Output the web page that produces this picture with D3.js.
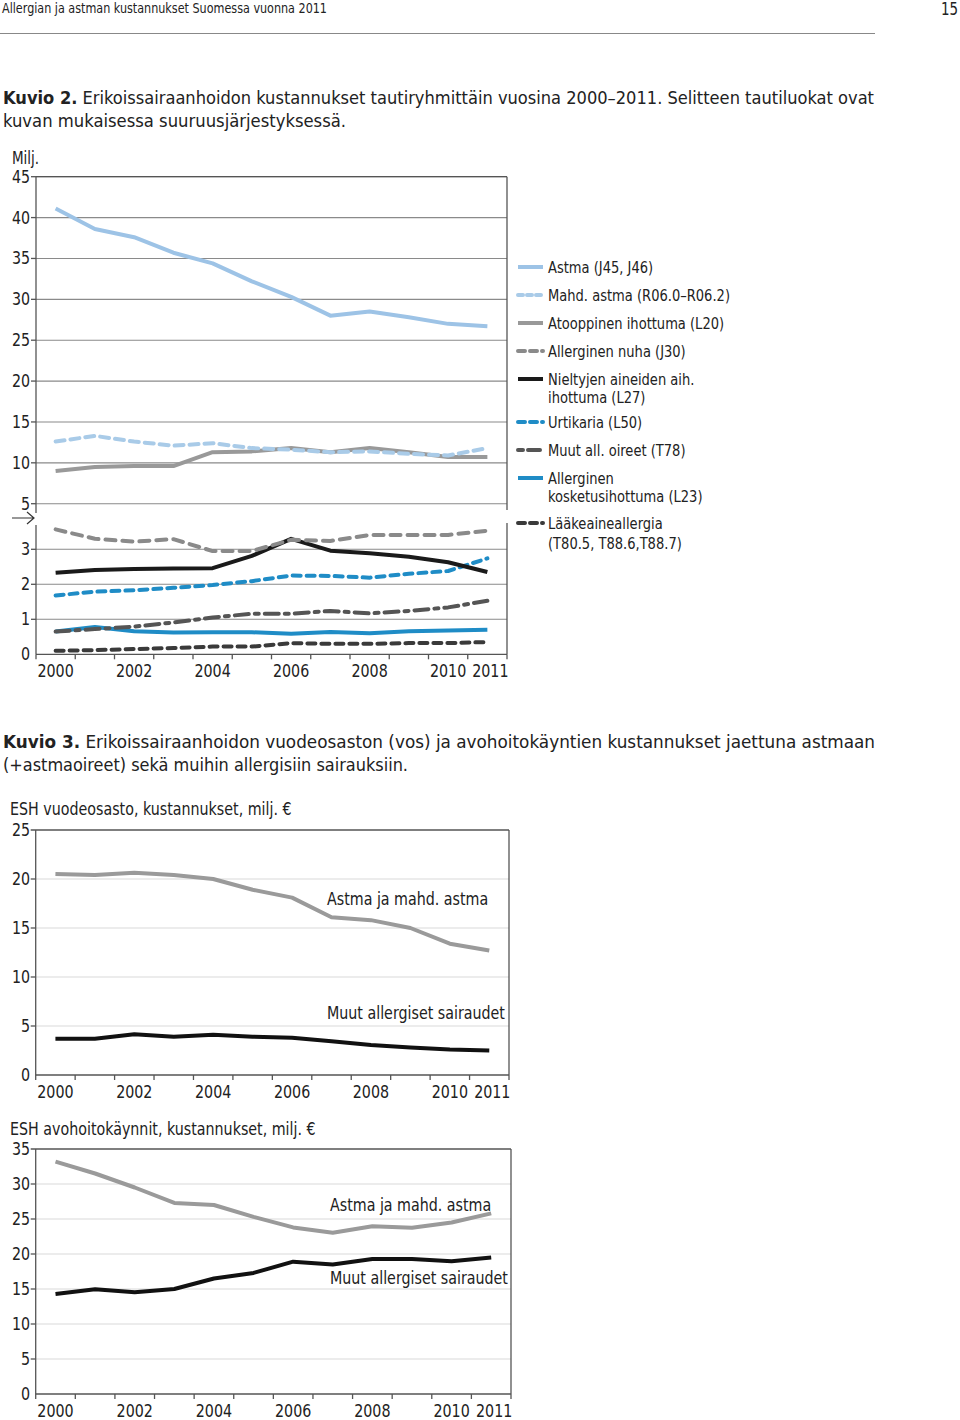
<!DOCTYPE html>
<html><head><meta charset="utf-8">
<script src="https://cdn.jsdelivr.net/npm/d3@7"></script>
<style>
body{margin:0;background:#fff;}
svg text{font-family:"Liberation Sans Narrow","DejaVu Sans Condensed","Roboto",sans-serif;fill:#222;}
</style></head>
<body><svg id="c" width="960" height="1420"></svg>
<script>
// ---------- DATA ----------
const years = [2000,2001,2002,2003,2004,2005,2006,2007,2008,2009,2010,2011];
const xLabelYears = [2000,2002,2004,2006,2008,2010,2011];

// Kuvio 2
const astma       = [41.1,38.6,37.6,35.7,34.4,32.2,30.3,28.0,28.5,27.8,27.0,26.7];
const mahdAstma   = [12.6,13.3,12.6,12.1,12.4,11.8,11.6,11.3,11.4,11.1,10.9,11.8];
const atooppinen  = [9.0,9.5,9.6,9.6,11.3,11.4,11.8,11.3,11.8,11.3,10.7,10.7];
const nuha        = [3.57,3.30,3.22,3.29,2.95,2.95,3.27,3.24,3.41,3.41,3.41,3.53];
const nieltyjen   = [2.33,2.41,2.44,2.45,2.46,2.81,3.30,2.96,2.89,2.79,2.63,2.35];
const urtikaria   = [1.68,1.79,1.83,1.90,1.98,2.09,2.25,2.24,2.19,2.30,2.38,2.74];
const muutOireet  = [0.65,0.72,0.79,0.91,1.05,1.16,1.16,1.24,1.17,1.24,1.34,1.53];
const kosketus    = [0.65,0.78,0.66,0.62,0.63,0.63,0.59,0.64,0.60,0.66,0.68,0.70];
const laake       = [0.10,0.12,0.15,0.18,0.22,0.22,0.32,0.30,0.30,0.32,0.32,0.35];
const upperTicks  = [5,10,15,20,25,30,35,40,45];
const lowerTicks  = [0,1,2,3];
const legendLabels = [
  ["Astma (J45, J46)"],
  ["Mahd. astma (R06.0–R06.2)"],
  ["Atooppinen ihottuma (L20)"],
  ["Allerginen nuha (J30)"],
  ["Nieltyjen aineiden aih.","ihottuma (L27)"],
  ["Urtikaria (L50)"],
  ["Muut all. oireet (T78)"],
  ["Allerginen","kosketusihottuma (L23)"],
  ["Lääkeaineallergia","(T80.5, T88.6,T88.7)"]
];

// Kuvio 3
const vosAstma = [20.5,20.4,20.65,20.4,20.0,18.9,18.1,16.1,15.8,15.0,13.4,12.7];
const vosMuut  = [3.7,3.7,4.15,3.9,4.1,3.9,3.8,3.45,3.05,2.8,2.6,2.5];
const vosTicks = [0,5,10,15,20,25];
const avoAstma = [33.2,31.5,29.5,27.3,27.0,25.3,23.8,23.05,23.95,23.75,24.5,25.8];
const avoMuut  = [14.3,14.95,14.55,15.0,16.5,17.3,18.9,18.5,19.3,19.3,18.95,19.5];
const avoTicks = [0,5,10,15,20,25,30,35];
const seriesLabels = ["Astma ja mahd. astma","Muut allergiset sairaudet"];

// ---------- DRAW ----------
const svg = d3.select("#c");
const FS = 18;

// page header
svg.append("text").attr("x",2).attr("y",13).attr("font-size",14).attr("data-w",325).text("Allergian ja astman kustannukset Suomessa vuonna 2011");
svg.append("text").attr("x",958).attr("y",15).attr("font-size",17).attr("text-anchor","end").attr("class","c").text("15");
svg.append("line").attr("x1",0).attr("x2",875).attr("y1",33.5).attr("y2",33.5).attr("stroke","#888").attr("stroke-width",1.2);

function title(y, bold, rest, line2, w1, w2){
  const t = svg.append("text").attr("x",3).attr("y",y).attr("font-size",18).attr("data-w",w1);
  t.append("tspan").attr("font-weight","bold").text(bold);
  t.append("tspan").text(rest);
  svg.append("text").attr("x",3).attr("y",y+23).attr("font-size",18).attr("data-w",w2).text(line2);
}
title(104,"Kuvio 2."," Erikoissairaanhoidon kustannukset tautiryhmittäin vuosina 2000–2011. Selitteen tautiluokat ovat","kuvan mukaisessa suuruusjärjestyksessä.",871,343);
title(748,"Kuvio 3."," Erikoissairaanhoidon vuodeosaston (vos) ja avohoitokäyntien kustannukset jaettuna astmaan","(+astmaoireet) sekä muihin allergisiin sairauksiin.",872,405);

const AX = "#555";

function xAxisBand(g, x, yBase){
  const bw = x.bandwidth();
  const bounds = years.map(d=>x(d)).concat([x.range()[1]]);
  g.append("line").attr("x1",x.range()[0]).attr("x2",x.range()[1]).attr("y1",yBase).attr("y2",yBase).attr("stroke",AX).attr("stroke-width",1.3);
  g.selectAll(".xt").data(bounds).join("line")
    .attr("x1",d=>d).attr("x2",d=>d).attr("y1",yBase).attr("y2",yBase+5).attr("stroke",AX).attr("stroke-width",1.3);
  g.selectAll(".xl").data(xLabelYears).join("text").attr("class","c")
    .attr("x",d=>x(d)+bw/2 + (d===2011?3:0)).attr("y",yBase+23).attr("text-anchor","middle").attr("font-size",FS).text(d=>d);
}

function yTicks(g, y, ticks, x0, x1, gridColor, labelX){
  g.selectAll(null).data(ticks).join("line")
    .attr("x1",x0).attr("x2",x1).attr("y1",d=>y(d)).attr("y2",d=>y(d))
    .attr("stroke",gridColor).attr("stroke-width",1.1);
  g.selectAll(null).data(ticks).join("line")
    .attr("x1",x0-5).attr("x2",x0).attr("y1",d=>y(d)).attr("y2",d=>y(d)).attr("stroke",AX).attr("stroke-width",1.3);
  g.selectAll(null).data(ticks).join("text").attr("class","c")
    .attr("x",labelX).attr("y",d=>y(d)+6).attr("text-anchor","end").attr("font-size",FS).text(d=>d);
}

// ----- Chart 1 (Kuvio 2) -----
const g1 = svg.append("g");
const x1 = d3.scaleBand().domain(years).range([36,507]);
const yU = d3.scaleLinear().domain([5,45]).range([503.7,176.7]);
const yL = d3.scaleLinear().domain([0,3]).range([654.3,549.3]);
const xc1 = d=>x1(d)+x1.bandwidth()/2;

svg.append("text").attr("x",12).attr("y",164).attr("font-size",17).attr("class","c").text("Milj.");
yTicks(g1, yU, upperTicks, 36, 507, "#8a8a8a", 30);
yTicks(g1, yL, lowerTicks.filter(d=>d>0), 36, 507, "#8a8a8a", 30);
g1.append("text").attr("class","c").attr("x",30).attr("y",yL(0)+6).attr("text-anchor","end").attr("font-size",FS).text(0);
// top border
g1.append("line").attr("x1",36).attr("x2",507).attr("y1",yU(45)).attr("y2",yU(45)).attr("stroke",AX).attr("stroke-width",1.3);
// left axis (broken)
g1.append("line").attr("x1",36).attr("x2",36).attr("y1",yU(45)).attr("y2",513).attr("stroke",AX).attr("stroke-width",1.3);
g1.append("line").attr("x1",36).attr("x2",36).attr("y1",525).attr("y2",yL(0)).attr("stroke",AX).attr("stroke-width",1.3);
// right border (broken)
g1.append("line").attr("x1",507).attr("x2",507).attr("y1",yU(45)).attr("y2",510).attr("stroke",AX).attr("stroke-width",1.3);
g1.append("line").attr("x1",507).attr("x2",507).attr("y1",523).attr("y2",yL(0)).attr("stroke",AX).attr("stroke-width",1.3);
// break arrow
g1.append("path").attr("d","M12,518 L34,518 M27,512 L34,518 L27,524").attr("fill","none").attr("stroke","#333").attr("stroke-width",1.2);
xAxisBand(g1, x1, yL(0));

const lineU = d3.line().x((d,i)=>xc1(years[i])).y(d=>yU(d));
const lineL = d3.line().x((d,i)=>xc1(years[i])).y(d=>yL(d));

const series1 = [
  {data:astma, color:"#9dc3e6", dash:null, scale:"U"},
  {data:mahdAstma, color:"#a9cbe8", dash:"9,6", scale:"U"},
  {data:atooppinen, color:"#999999", dash:null, scale:"U"},
  {data:nuha, color:"#8a8a8a", dash:"10,7", scale:"L"},
  {data:nieltyjen, color:"#1a1a1a", dash:null, scale:"L"},
  {data:urtikaria, color:"#1f8cc6", dash:"8,6", scale:"L"},
  {data:muutOireet, color:"#555555", dash:"14,6,4,6", scale:"L"},
  {data:kosketus, color:"#1f8cc6", dash:null, scale:"L"},
  {data:laake, color:"#3a3a3a", dash:"8,6", scale:"L"}
];
[...series1].reverse().forEach(s=>{
  g1.append("path").datum(s.data)
    .attr("d", s.scale==="U"?lineU:lineL)
    .attr("fill","none").attr("stroke",s.color).attr("stroke-width",4)
    .attr("stroke-dasharray",s.dash).attr("stroke-linecap",s.dash?"round":"butt")
    .attr("stroke-linejoin","round");
});

// legend
const legY = [267,295,323,351,379,422,450,478,523];
const leg = svg.append("g");
series1.forEach((s,i)=>{
  leg.append("line").attr("x1",518).attr("x2",543).attr("y1",legY[i]).attr("y2",legY[i])
    .attr("stroke",s.color).attr("stroke-width",4)
    .attr("stroke-dasharray", s.dash? (s.dash==="14,6,4,6"?"5,5,12":(i===1?"5,4":"7,5")):null)
    .attr("stroke-linecap",s.dash?"round":"butt");
  const gap = i===8?20:18;
  legendLabels[i].forEach((t,j)=>{
    leg.append("text").attr("class","c").attr("x",548).attr("y",legY[i]+5.5+j*gap).attr("font-size",16.5).text(t);
  });
});

// ----- Chart 2 & 3 -----
function simpleChart(opts){
  const g = svg.append("g");
  const x = d3.scaleBand().domain(years).range([opts.x0,opts.x1]);
  const y = d3.scaleLinear().domain([0,opts.max]).range([opts.yb,opts.yt]);
  const xc = d=>x(d)+x.bandwidth()/2;
  svg.append("text").attr("class","c").attr("x",10).attr("y",opts.titleY).attr("font-size",FS).text(opts.title);
  yTicks(g, y, opts.ticks.filter(d=>d>0 && d<opts.max), opts.x0, opts.x1, "#d9d9d9", 30);
  g.append("text").attr("class","c").attr("x",30).attr("y",y(0)+6).attr("text-anchor","end").attr("font-size",FS).text(0);
  g.append("text").attr("class","c").attr("x",30).attr("y",y(opts.max)+6).attr("text-anchor","end").attr("font-size",FS).text(opts.max);
  g.append("line").attr("x1",opts.x0-5).attr("x2",opts.x1).attr("y1",y(opts.max)).attr("y2",y(opts.max)).attr("stroke",AX).attr("stroke-width",1.3);
  g.append("line").attr("x1",opts.x0).attr("x2",opts.x0).attr("y1",y(opts.max)).attr("y2",y(0)).attr("stroke",AX).attr("stroke-width",1.3);
  g.append("line").attr("x1",opts.x1).attr("x2",opts.x1).attr("y1",y(opts.max)).attr("y2",y(0)).attr("stroke",AX).attr("stroke-width",1.3);
  xAxisBand(g, x, y(0));
  const ln = d3.line().x((d,i)=>xc(years[i])).y(d=>y(d));
  [[opts.a,"#9a9a9a"],[opts.m,"#111"]].forEach(([d,c])=>{
    g.append("path").datum(d).attr("d",ln).attr("fill","none").attr("stroke",c).attr("stroke-width",4).attr("stroke-linejoin","round");
  });
  g.append("text").attr("class","c").attr("x",opts.lx).attr("y",opts.la).attr("font-size",FS).text(seriesLabels[0]);
  g.append("text").attr("class","c").attr("x",opts.lx).attr("y",opts.lm).attr("font-size",FS).text(seriesLabels[1]);
}
simpleChart({x0:35.7,x1:509,yb:1075,yt:830,max:25,ticks:vosTicks,a:vosAstma,m:vosMuut,
  title:"ESH vuodeosasto, kustannukset, milj. €",titleY:815,lx:327,la:905,lm:1019});
simpleChart({x0:35.7,x1:511,yb:1394,yt:1149,max:35,ticks:avoTicks,a:avoAstma,m:avoMuut,
  title:"ESH avohoitokäynnit, kustannukset, milj. €",titleY:1135,lx:330,la:1211,lm:1284});

// condensed look: squeeze chart texts horizontally, fit titles to measured widths
svg.selectAll("text.c").each(function(){
  const w = this.getComputedTextLength();
  this.setAttribute("textLength", (w*0.88).toFixed(1));
  this.setAttribute("lengthAdjust","spacingAndGlyphs");
});
svg.selectAll("text[data-w]").each(function(){
  this.setAttribute("textLength", this.getAttribute("data-w"));
  this.setAttribute("lengthAdjust","spacingAndGlyphs");
});
</script></body></html>
